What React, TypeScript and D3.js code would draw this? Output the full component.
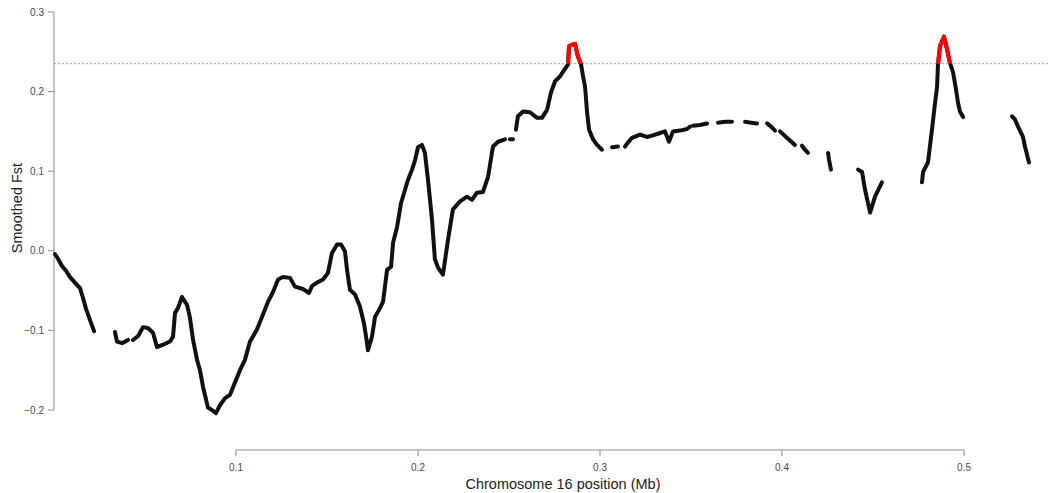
import React, { useEffect, useRef } from 'react';
import * as d3 from 'd3';

// smoothed Fst along chromosome 16 (position in Mb, value); gaps between runs = missing windows
const run01 = [[0.0005, -0.004], [0.0022, -0.010], [0.0044, -0.019], [0.0066, -0.025], [0.0088, -0.033], [0.0115, -0.040], [0.0143, -0.047], [0.0159, -0.059], [0.0176, -0.073], [0.0198, -0.087], [0.0220, -0.101]];
const run02 = [[0.0335, -0.102], [0.0346, -0.114], [0.0374, -0.116], [0.0407, -0.112]];
const run03 = [
  [0.0434, -0.112], [0.0462, -0.107], [0.0489, -0.096], [0.0516, -0.097], [0.0544, -0.103], [0.0566, -0.121], [0.0599, -0.118],
  [0.0637, -0.114], [0.0654, -0.108], [0.0665, -0.078], [0.0681, -0.072], [0.0703, -0.058], [0.0731, -0.068], [0.0747, -0.084],
  [0.0764, -0.112], [0.0786, -0.137], [0.0802, -0.150], [0.0819, -0.171], [0.0846, -0.197], [0.0868, -0.200], [0.0890, -0.204],
  [0.0912, -0.194], [0.0940, -0.185], [0.0967, -0.181], [0.0984, -0.171], [0.1022, -0.150], [0.1049, -0.137], [0.1077, -0.114],
  [0.1115, -0.099], [0.1143, -0.083], [0.1176, -0.064], [0.1203, -0.052], [0.1231, -0.036], [0.1258, -0.033], [0.1297, -0.034],
  [0.1324, -0.045], [0.1368, -0.048], [0.1401, -0.053], [0.1418, -0.044], [0.1445, -0.040], [0.1478, -0.036], [0.1505, -0.028],
  [0.1527, -0.003], [0.1555, 0.008], [0.1577, 0.008], [0.1599, -0.001], [0.1610, -0.024], [0.1626, -0.049], [0.1654, -0.055],
  [0.1681, -0.070], [0.1703, -0.091], [0.1720, -0.116], [0.1725, -0.125], [0.1747, -0.108], [0.1764, -0.083], [0.1791, -0.072],
  [0.1808, -0.064], [0.1830, -0.024], [0.1852, -0.020], [0.1863, 0.010], [0.1885, 0.030], [0.1907, 0.060], [0.1929, 0.077],
  [0.1945, 0.089], [0.1967, 0.102], [0.1984, 0.114], [0.2000, 0.130], [0.2022, 0.133], [0.2038, 0.123], [0.2055, 0.089],
  [0.2077, 0.039], [0.2093, -0.011], [0.2110, -0.021], [0.2137, -0.030], [0.2165, 0.014], [0.2192, 0.052], [0.2231, 0.062],
  [0.2269, 0.068], [0.2297, 0.064], [0.2324, 0.073], [0.2357, 0.074], [0.2385, 0.093], [0.2412, 0.131], [0.2440, 0.137],
  [0.2478, 0.140]
];
const run04 = [[0.2505, 0.140], [0.2522, 0.140]];
const run05 = [
  [0.2538, 0.152], [0.2549, 0.169], [0.2577, 0.175], [0.2615, 0.174], [0.2654, 0.167], [0.2681, 0.167], [0.2709, 0.177],
  [0.2731, 0.199], [0.2753, 0.213], [0.2780, 0.219], [0.2797, 0.225], [0.2824, 0.234], [0.2830, 0.257], [0.2846, 0.259],
  [0.2863, 0.260], [0.2879, 0.244], [0.2896, 0.234], [0.2907, 0.219], [0.2918, 0.206], [0.2929, 0.174], [0.2940, 0.152],
  [0.2962, 0.140], [0.2984, 0.133], [0.3011, 0.127]
];
const run06 = [[0.3066, 0.130], [0.3099, 0.131]];
const run07 = [
  [0.3137, 0.131], [0.3154, 0.136], [0.3176, 0.142], [0.3220, 0.146], [0.3258, 0.143], [0.3291, 0.145], [0.3330, 0.148],
  [0.3357, 0.150], [0.3379, 0.137], [0.3401, 0.150], [0.3440, 0.151], [0.3478, 0.153], [0.3495, 0.156]
];
const run08 = [[0.3511, 0.157], [0.3549, 0.158], [0.3588, 0.160]];
const run09 = [[0.3648, 0.161], [0.3687, 0.162], [0.3725, 0.162]];
const run10 = [[0.3797, 0.162], [0.3830, 0.161], [0.3863, 0.160]];
const run11 = [[0.3918, 0.160], [0.3940, 0.156], [0.3962, 0.151]];
const run12 = [[0.3989, 0.150], [0.4027, 0.142], [0.4071, 0.133]];
const run13 = [[0.4110, 0.132], [0.4126, 0.127], [0.4143, 0.123]];
const run14 = [[0.4253, 0.123], [0.4258, 0.115], [0.4269, 0.102]];
const run15 = [[0.4418, 0.102], [0.4440, 0.099], [0.4456, 0.077], [0.4484, 0.048], [0.4511, 0.068], [0.4549, 0.086]];
const run16 = [
  [0.4769, 0.086], [0.4775, 0.099], [0.4802, 0.111], [0.4824, 0.152], [0.4841, 0.186], [0.4852, 0.206], [0.4857, 0.234],
  [0.4868, 0.257], [0.4890, 0.269], [0.4907, 0.253], [0.4923, 0.236], [0.4940, 0.224], [0.4956, 0.203], [0.4967, 0.186],
  [0.4978, 0.175], [0.4995, 0.168]
];
const run17 = [[0.5264, 0.169], [0.5280, 0.165], [0.5297, 0.156], [0.5324, 0.143], [0.5335, 0.131], [0.5357, 0.111]];

const runs = [run01, run02, run03, run04, run05, run06, run07, run08, run09, run10, run11, run12, run13, run14, run15, run16, run17];

const threshold = 0.235;
const xTicks = [0.1, 0.2, 0.3, 0.4, 0.5];
const yTicks = [-0.2, -0.1, 0.0, 0.1, 0.2, 0.3];
const xTitle = 'Chromosome 16 position (Mb)';
const yTitle = 'Smoothed Fst';

const App = () => {
  const ref = useRef<SVGSVGElement>(null);

  useEffect(() => {
    const width = 1048;
    const font = '"Liberation Sans", Arial, Helvetica, sans-serif';
    const svg = d3.select(ref.current);
    svg.selectAll('*').remove();

    const x = d3.scaleLinear().domain([0.1, 0.5]).range([236, 964]);
    const y = d3.scaleLinear().domain([-0.2, 0.3]).range([410, 12]);
    const left = x(0); // plot region starts at 0 Mb
    const axisColor = '#8c8c8c';

    // threshold line
    svg.append('line')
      .attr('x1', left).attr('x2', width)
      .attr('y1', y(threshold)).attr('y2', y(threshold))
      .attr('stroke', '#9a9a9a').attr('stroke-width', 1)
      .attr('stroke-dasharray', '2,2');

    // y axis (R style, only spanning the ticks)
    const ya = svg.append('g');
    ya.append('line')
      .attr('x1', left).attr('x2', left)
      .attr('y1', y(-0.2)).attr('y2', y(0.3))
      .attr('stroke', axisColor);
    ya.selectAll('line.tick').data(yTicks).enter().append('line')
      .attr('class', 'tick')
      .attr('x1', left - 6).attr('x2', left)
      .attr('y1', d => y(d)).attr('y2', d => y(d))
      .attr('stroke', axisColor);
    ya.selectAll('text').data(yTicks).enter().append('text')
      .attr('x', left - 10).attr('y', d => y(d))
      .attr('dy', '0.35em')
      .attr('text-anchor', 'end')
      .style('font-family', font).style('font-size', '10px').attr('fill', '#4a4a4a')
      .text(d => d3.format('.1f')(d));

    // x axis
    const xa = svg.append('g');
    const xAxisY = 450;
    xa.append('line')
      .attr('x1', x(0.1)).attr('x2', x(0.5))
      .attr('y1', xAxisY).attr('y2', xAxisY)
      .attr('stroke', axisColor);
    xa.selectAll('line.tick').data(xTicks).enter().append('line')
      .attr('class', 'tick')
      .attr('x1', d => x(d)).attr('x2', d => x(d))
      .attr('y1', xAxisY).attr('y2', xAxisY + 6)
      .attr('stroke', axisColor);
    xa.selectAll('text').data(xTicks).enter().append('text')
      .attr('x', d => x(d)).attr('y', 471)
      .attr('text-anchor', 'middle')
      .style('font-family', font).style('font-size', '10px').attr('fill', '#4a4a4a')
      .text(d => d3.format('.1f')(d));

    // axis titles
    svg.append('text')
      .attr('x', 563).attr('y', 489)
      .attr('text-anchor', 'middle')
      .style('font-family', font).style('font-size', '14.5px').attr('fill', '#222')
      .text(xTitle);
    svg.append('text')
      .attr('transform', `translate(22,208) rotate(-90)`)
      .attr('text-anchor', 'middle')
      .style('font-family', font).style('font-size', '14.5px').attr('fill', '#222')
      .text(yTitle);

    // clip for the part above the threshold
    svg.append('defs').append('clipPath').attr('id', 'above-thr')
      .append('rect')
      .attr('x', 0).attr('y', 0)
      .attr('width', width).attr('height', y(threshold));

    const line = d3.line<number[]>()
      .x(d => x(d[0]))
      .y(d => y(d[1]));

    const lines = svg.append('g');
    lines.selectAll('path').data(runs).enter().append('path')
      .attr('d', line)
      .attr('fill', 'none')
      .attr('stroke', '#111')
      .attr('stroke-width', 4)
      .attr('stroke-linecap', 'round')
      .attr('stroke-linejoin', 'round');

    const hits = svg.append('g').attr('clip-path', 'url(#above-thr)');
    hits.selectAll('path').data(runs).enter().append('path')
      .attr('d', line)
      .attr('fill', 'none')
      .attr('stroke', '#ff0000')
      .attr('stroke-width', 4)
      .attr('stroke-linecap', 'round')
      .attr('stroke-linejoin', 'round');
  }, []);

  return (
    <svg ref={ref} width={1048} height={493}
      style={{ position: 'absolute', left: 0, top: 0, background: '#fff', display: 'block' }} />
  );
};

export default App;
